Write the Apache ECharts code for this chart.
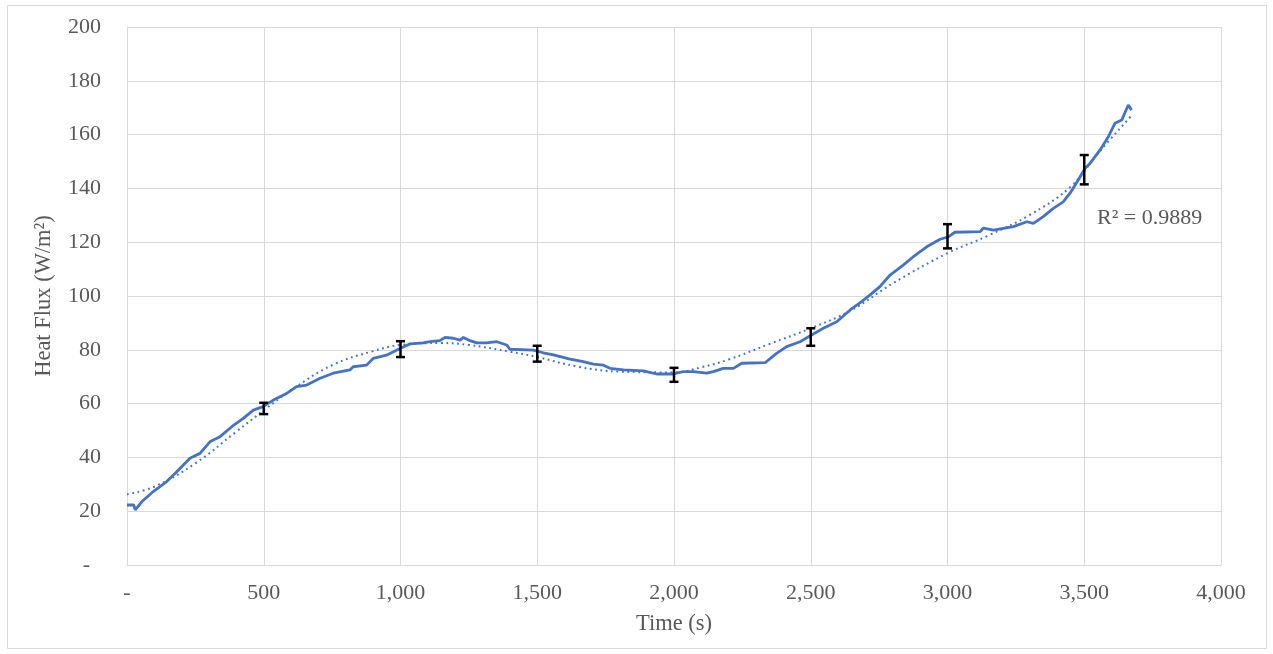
<!DOCTYPE html>
<html>
<head>
<meta charset="utf-8">
<script src="https://cdn.jsdelivr.net/npm/echarts@6/dist/echarts.min.js"></script>
<style>
html,body{margin:0;padding:0;background:#fff;}
#c{width:1273px;height:654px;}
</style>
</head>
<body>
<div id="c"></div>
<script>
// Measured heat flux (time s, W/m²)
const timeS = [0, 25, 30, 54, 96, 145, 182, 230, 267, 303, 340, 383, 425, 462, 498, 535, 584, 620, 657, 706, 754, 815, 827, 876, 900, 949, 998, 1035, 1083, 1108, 1144, 1163, 1193, 1218, 1230, 1254, 1279, 1315, 1352, 1388, 1400, 1486, 1522, 1559, 1620, 1668, 1705, 1742, 1766, 1815, 1888, 1937, 1997, 2034, 2071, 2119, 2144, 2180, 2217, 2248, 2333, 2375, 2412, 2461, 2503, 2546, 2595, 2644, 2686, 2717, 2753, 2790, 2838, 2875, 2924, 2973, 3003, 3027, 3119, 3131, 3168, 3241, 3290, 3314, 3350, 3387, 3423, 3448, 3478, 3503, 3521, 3558, 3588, 3612, 3637, 3661, 3673];
const heatFlux = [22.3, 22.3, 20.5, 23.5, 27.3, 31, 34.7, 39.7, 41.5, 45.8, 47.7, 51.4, 54.5, 57.6, 58.9, 61.3, 63.8, 66.3, 66.9, 69.4, 71.3, 72.5, 73.7, 74.3, 76.8, 78, 80.5, 82.2, 82.6, 83, 83.4, 84.6, 84.3, 83.6, 84.6, 83.4, 82.6, 82.6, 83, 81.8, 80.2, 79.9, 78.9, 78.1, 76.5, 75.6, 74.7, 74.3, 73.1, 72.5, 72.2, 71, 71, 71.9, 71.9, 71.3, 71.9, 73.1, 73.1, 75, 75.2, 78.7, 81.2, 83, 85.5, 88, 90.4, 94.8, 97.9, 100.4, 103.5, 107.8, 111.5, 114.6, 118.3, 121.1, 122, 123.7, 123.9, 125.2, 124.5, 125.8, 127.6, 127, 129.5, 132.6, 135, 138.2, 143.1, 147.5, 149.3, 154.3, 159.2, 164.2, 165.4, 171, 169.1];

// Polynomial trendline
const trendTime = [0, 100, 250, 400, 500, 600, 750, 900, 1000, 1150, 1250, 1400, 1500, 1650, 1800, 2000, 2100, 2200, 2350, 2500, 2650, 2800, 3000, 3150, 3300, 3450, 3550, 3675];
const trendFlux = [26.3, 29.1, 37.8, 49.6, 57.5, 65, 74.3, 79.5, 81.8, 82.5, 81.8, 79.3, 77.3, 73.7, 71.9, 71.6, 73.5, 76.4, 82.2, 88, 94.8, 104.7, 115.9, 122.5, 130.1, 140.6, 153, 167.3];
const rSquaredText = 'R² = 0.9889';

// Error bars
const errTime = [500, 1000, 1500, 2000, 2500, 3000, 3500];
const errLow  = [56.1, 77.3, 75.6, 68.1, 81.5, 117.7, 141.5];
const errHigh = [60.3, 83.2, 81.5, 73.3, 88.0, 126.7, 152.4];

// Axis ticks
const xTicks = [0, 500, 1000, 1500, 2000, 2500, 3000, 3500, 4000];
const yTicks = [0, 20, 40, 60, 80, 100, 120, 140, 160, 180, 200];

const FONT = '"Liberation Serif", "Times New Roman", serif';
const FS = 22;
const TXT = '#595959';
const BLUE = '#4472C4';

const chart = echarts.init(document.getElementById('c'), null, {renderer: 'canvas'});
const fmt = v => v === 0 ? '-' : v.toLocaleString('en-US');

chart.setOption({
  animation: false,
  backgroundColor: '#ffffff',
  graphic: [{
    type: 'rect', left: 7, top: 5, z: -10,
    shape: {width: 1259, height: 643},
    style: {fill: '#ffffff', stroke: '#d9d9d9', lineWidth: 1}
  }],
  title: {
    text: rSquaredText, left: 1092, top: 202,
    textStyle: {fontFamily: FONT, fontSize: FS, fontWeight: 'normal', color: TXT}
  },
  grid: {left: 127, right: 52, top: 27, bottom: 89, containLabel: false},
  xAxis: {
    type: 'value', min: xTicks[0], max: xTicks[xTicks.length - 1], interval: 500,
    name: 'Time (s)', nameLocation: 'middle', nameGap: 48,
    nameTextStyle: {fontFamily: FONT, fontSize: FS + 0.5, color: TXT},
    axisLine: {show: true, lineStyle: {color: '#d9d9d9', width: 1}},
    axisTick: {show: false},
    axisLabel: {fontFamily: FONT, fontSize: FS, color: TXT, margin: 17, formatter: fmt},
    splitLine: {show: true, lineStyle: {color: '#d9d9d9', width: 1}}
  },
  yAxis: {
    type: 'value', min: yTicks[0], max: yTicks[yTicks.length - 1], interval: 20,
    name: 'Heat Flux (W/m²)', nameLocation: 'middle', nameGap: 71,
    nameTextStyle: {fontFamily: FONT, fontSize: FS + 0.5, color: TXT},
    axisLine: {show: true, lineStyle: {color: '#d9d9d9', width: 1}},
    axisTick: {show: false},
    axisLabel: {fontFamily: FONT, fontSize: FS, color: TXT, margin: 26,
      formatter: v => v === 0 ? '-  ' : String(v)},
    splitLine: {show: true, lineStyle: {color: '#d9d9d9', width: 1}}
  },
  series: [
    {
      type: 'line', name: 'Heat Flux', showSymbol: false, z: 3,
      data: timeS.map((t, i) => [t, heatFlux[i]]),
      lineStyle: {color: BLUE, width: 2.8}
    },
    {
      type: 'line', name: 'Trend', showSymbol: false, smooth: 0.4, z: 2,
      data: trendTime.map((t, i) => [t, trendFlux[i]]),
      lineStyle: {color: BLUE, width: 2, type: [1.8, 3.6]}
    },
    {
      type: 'custom', name: 'Error', z: 5,
      data: errTime.map((t, i) => [t, errLow[i], errHigh[i]]),
      renderItem: function (params, api) {
        const lo = api.coord([api.value(0), api.value(1)]);
        const hi = api.coord([api.value(0), api.value(2)]);
        const w = 4.5;
        const st = {stroke: '#000', lineWidth: 2.5};
        return {type: 'group', children: [
          {type: 'line', shape: {x1: lo[0], y1: lo[1], x2: hi[0], y2: hi[1]}, style: st},
          {type: 'line', shape: {x1: lo[0] - w, y1: lo[1], x2: lo[0] + w, y2: lo[1]}, style: st},
          {type: 'line', shape: {x1: hi[0] - w, y1: hi[1], x2: hi[0] + w, y2: hi[1]}, style: st}
        ]};
      }
    }
  ]
});
</script>
</body>
</html>
